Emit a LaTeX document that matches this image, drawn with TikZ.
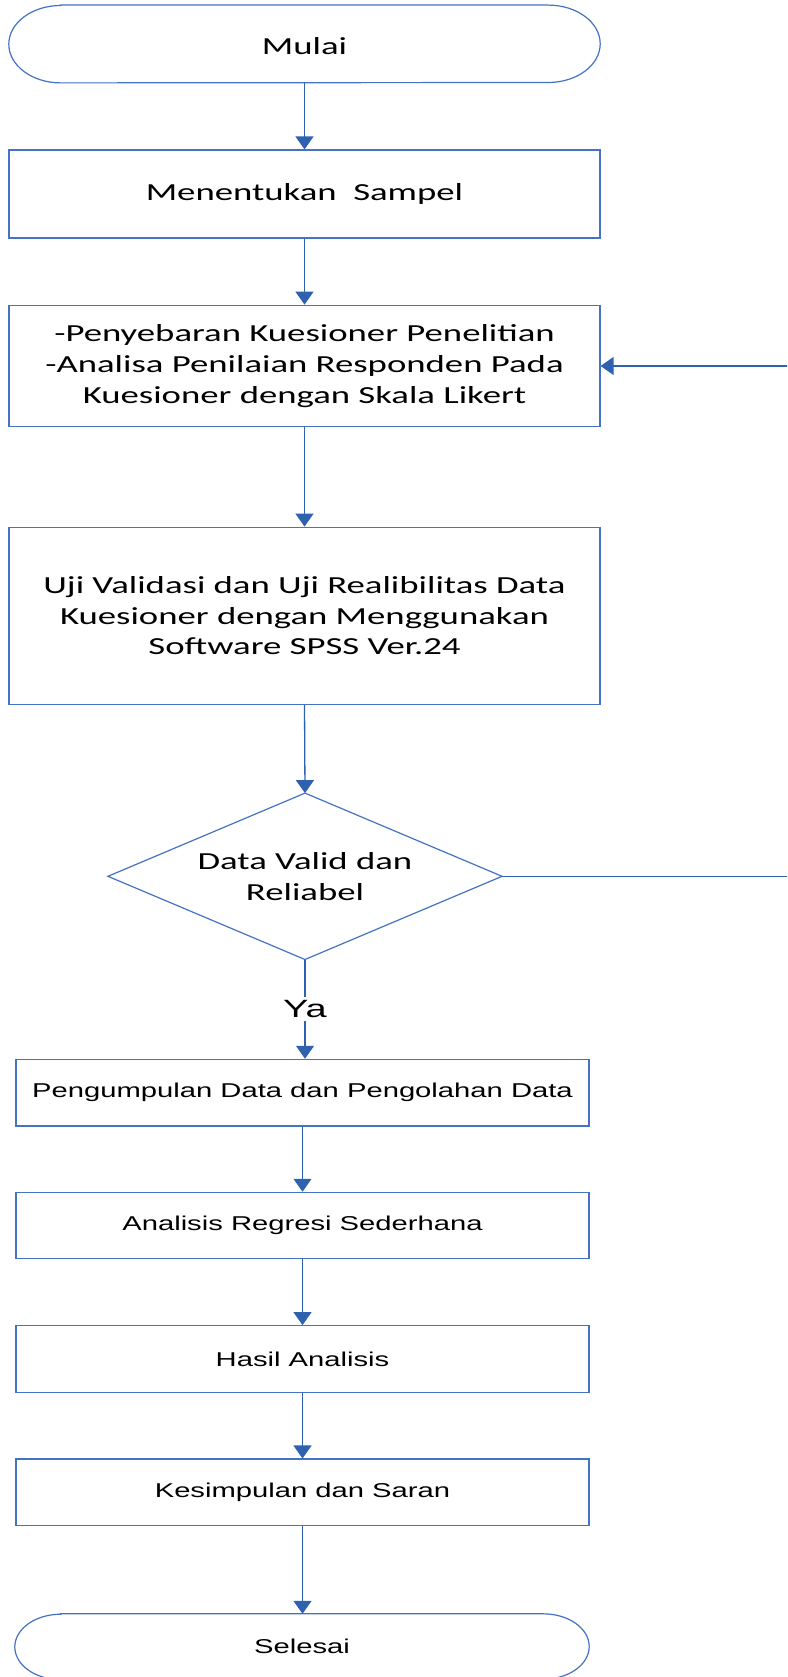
\documentclass[tikz,border=0pt]{standalone}
\usepackage{fontspec}
\usetikzlibrary{arrows.meta}
\newfontfamily\calfont[FakeStretch=1.5]{Carlito}
\newfontfamily\arifont[FakeStretch=1.46]{Liberation Sans}
\newfontfamily\yafont[FakeStretch=1.52]{Liberation Sans}
\definecolor{shapeblue}{HTML}{4472C4}
\definecolor{lineblue}{HTML}{2F62AE}
\tikzset{
  box/.style={draw=shapeblue, line width=1.2pt, rectangle, inner sep=0pt, align=center, text=black},
  term/.style={rectangle, inner sep=0pt, align=center, text=black},
  calt/.style={font=\calfont\fontsize{24.5}{30.8}\selectfont},
  arit/.style={font=\arifont\fontsize{20}{23}\selectfont},
  outline/.style={draw=shapeblue, line width=1.2pt},
  arr/.style={draw=lineblue, line width=1.3pt, -{Triangle[width=18pt,length=13pt]}},
  plain/.style={draw=lineblue, line width=1.2pt}
}
\begin{document}
\begin{tikzpicture}[x=1pt,y=-1pt]
\useasboundingbox (0,0) rectangle (787,1677);
\clip (0,0) rectangle (787,1677);
\fill[white] (0,0) rectangle (787,1677);

% Mulai terminator
\node[term, calt, minimum width=591pt, minimum height=77.4pt] (mulai) at (304.5,46) {Mulai};
\draw[outline] ([xshift=52pt,yshift=2pt]mulai.north west) -- ([xshift=-52pt,yshift=2pt]mulai.north east)
  arc[start angle=90, end angle=-90, x radius=52pt, y radius=38.7pt]
  -- ([xshift=52pt,yshift=2pt]mulai.south west)
  arc[start angle=270, end angle=90, x radius=52pt, y radius=38.7pt] -- cycle;
\coordinate (mulaibot) at ([yshift=2pt]mulai.south);

\node[box, calt, minimum width=591pt, minimum height=88pt] (sampel) at (304.5,194) {\raisebox{-2pt}{Menentukan\ \ Sampel}};
\node[box, calt, minimum width=591pt, minimum height=121.5pt] (sebar) at (304.5,366)
  {-Penyebaran Kuesioner Penelitian\\-Analisa Penilaian Responden Pada\\Kuesioner dengan Skala Likert};
\node[box, calt, minimum width=591pt, minimum height=177pt] (uji) at (304.5,615.7)
  {Uji Validasi dan Uji Realibilitas Data\\Kuesioner dengan Menggunakan\\Software SPSS Ver.24};

% Decision diamond
\coordinate (dc) at (305,876.3);
\node[term, calt, minimum width=393.7pt, minimum height=166pt] (dia) at (dc) {Data Valid dan\\Reliabel};
\draw[outline] (dia.north) -- (dia.east) -- (dia.south) -- (dia.west) -- cycle;

\node[box, arit, minimum width=573pt, minimum height=66.7pt] (kumpul) at (302.5,1092.7) {Pengumpulan Data dan Pengolahan Data};
\node[box, arit, minimum width=573pt, minimum height=66.3pt] (regresi) at (302.5,1225.5) {Analisis Regresi Sederhana};
\node[box, arit, minimum width=573pt, minimum height=66.6pt] (hasil) at (302.5,1359) {Hasil Analisis};
\node[box, arit, minimum width=573pt, minimum height=66.3pt] (simpul) at (302.5,1492.2) {Kesimpulan dan Saran};

% Selesai terminator
\node[term, arit, minimum width=574pt, minimum height=65.4pt] (selesai) at (302,1646.7) {Selesai};
\draw[outline] ([xshift=46pt]selesai.north west) -- ([xshift=-46pt]selesai.north east)
  arc[start angle=90, end angle=-90, x radius=46pt, y radius=32.7pt]
  -- ([xshift=46pt]selesai.south west)
  arc[start angle=270, end angle=90, x radius=46pt, y radius=32.7pt] -- cycle;

% connectors
\draw[arr] (mulaibot) -- (sampel.north);
\draw[arr] (sampel.south) -- (sebar.north);
\draw[arr] (sebar.south) -- (uji.north);
\draw[arr] (uji.south) -- (dia.north);
\draw[arr] (dia.south) -- node[fill=white, inner xsep=1pt, inner ysep=3pt, text=black, font=\yafont\fontsize{25}{27}\selectfont] (ya) {Ya} (dia.south |- kumpul.north);
\draw[arr] (kumpul.south) -- (regresi.north);
\draw[arr] (regresi.south) -- (hasil.north);
\draw[arr] (hasil.south) -- (simpul.north);
\draw[arr] (simpul.south) -- (simpul.south |- selesai.north);

% feedback loop (vertical part lies outside the visible page)
\coordinate (back) at (830,0);
\draw[arr] (dia.east) -- (dia.east -| back) |- (sebar.east);
\end{tikzpicture}
\end{document}
